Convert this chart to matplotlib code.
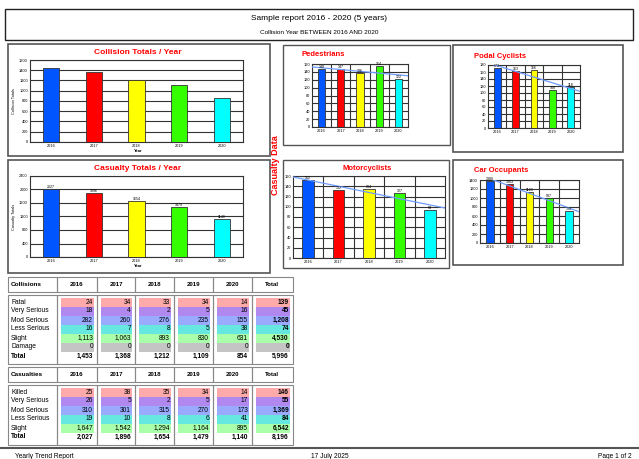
import numpy as np
import matplotlib
matplotlib.use('Agg')
from matplotlib import pyplot as plt
from matplotlib.patches import Rectangle

plt.rcParams['font.family'] = ['Liberation Sans', 'DejaVu Sans']

W, H = 639, 459  # page size in pixels

years = ['2016', '2017', '2018', '2019', '2020']
bar_colors = ['#0055ff', '#ff0000', '#ffff00', '#33ff00', '#00ffff']

# collisions by severity
coll_rows = ['Fatal', 'Very Serious', 'Mod Serious', 'Less Serious', 'Slight', 'Damage']
coll_fatal = [24, 34, 33, 34, 14]
coll_very = [18, 4, 2, 5, 16]
coll_mod = [282, 260, 276, 235, 155]
coll_less = [16, 7, 8, 5, 38]
coll_slight = [1113, 1063, 893, 830, 631]
coll_damage = [0, 0, 0, 0, 0]

# casualties by severity
cas_rows = ['Killed', 'Very Serious', 'Mod Serious', 'Less Serious', 'Slight']
cas_killed = [25, 38, 35, 34, 14]
cas_very = [26, 5, 2, 5, 17]
cas_mod = [310, 301, 315, 270, 173]
cas_less = [19, 10, 8, 6, 41]
cas_slight = [1647, 1542, 1294, 1164, 895]

# casualty groups
pedestrians = [148, 147, 136, 154, 122]
pedal_cyclists = [172, 163, 166, 108, 118]
motorcyclists = [152, 132, 134, 127, 94]
car_occupants = [1380, 1303, 1123, 997, 715]

coll_data = np.array([coll_fatal, coll_very, coll_mod, coll_less, coll_slight, coll_damage])
cas_data = np.array([cas_killed, cas_very, cas_mod, cas_less, cas_slight])
coll_totals = coll_data.sum(axis=0)
cas_totals = cas_data.sum(axis=0)

row_colors = ['#ffaaaa', '#b088ee', '#99aaff', '#66e8e0', '#aaffaa', '#c4c4c4']


def px(x0, y0, x1, y1):
    # pixel box (top-left origin) -> figure fraction rect
    return [x0 / W, 1 - y1 / H, (x1 - x0) / W, (y1 - y0) / H]


fig = plt.figure(figsize=(W / 100, H / 100), dpi=100)
bg = fig.add_axes([0, 0, 1, 1])
bg.set_xlim(0, W)
bg.set_ylim(H, 0)
bg.axis('off')


def box(x0, y0, x1, y1, ec='#444444', lw=1.0, fc='none'):
    bg.add_patch(Rectangle((x0, y0), x1 - x0, y1 - y0, fill=(fc != 'none'),
                           facecolor=fc, edgecolor=ec, linewidth=lw))


# header
box(5, 9, 633, 40, ec='#222222', lw=1.0)
bg.text(319, 19, 'Sample report 2016 - 2020 (5 years)', ha='center', va='center', fontsize=6)
bg.text(319, 32, 'Collision Year BETWEEN 2016 AND 2020', ha='center', va='center', fontsize=4.6)

# panel frames
box(8, 44, 270, 156, ec='#555555', lw=1.2)
box(8, 160, 270, 273, ec='#555555', lw=1.2)
box(283, 45, 450, 145, ec='#555555', lw=1.0)
box(453, 45, 623, 152, ec='#555555', lw=1.2)
box(283, 160, 449, 268, ec='#555555', lw=1.0)
box(453, 160, 623, 265, ec='#555555', lw=1.2)

bg.text(276, 165, 'Casualty Data', rotation=90, ha='center', va='center',
        fontsize=6.5, color='red', fontweight='bold')


def bar_chart(rect, vals, top, step, labels=True, trend=False, vgrid=False, ylabel=None):
    ax = fig.add_axes(px(*rect))
    x = np.arange(len(vals))
    ax.bar(x, vals, width=0.38, color=bar_colors, edgecolor='#333333', linewidth=0.6, zorder=3)
    ax.set_xlim(-0.5, len(vals) - 0.5)
    ax.set_ylim(0, top)
    ax.set_yticks(np.arange(0, top + 1, step))
    ax.set_xticks(x)
    ax.set_xticklabels(years)
    ax.tick_params(labelsize=2.8, length=0, pad=1.5)
    ax.grid(axis='y', color='#333333', linewidth=0.8, zorder=1)
    if vgrid:
        for b in np.arange(0.5, len(vals) - 1, 1):
            ax.axvline(b, color='#333333', linewidth=0.8, zorder=1)
    if trend:
        coef = np.polyfit(x, vals, 1)
        xx = np.array([-0.5, len(vals) - 0.5])
        ax.plot(xx, np.polyval(coef, xx), color='#6f9cff', linewidth=0.9, zorder=4)
    if labels:
        for xi, v in zip(x, vals):
            ax.text(xi, v, f'{v}', ha='center', va='bottom', fontsize=2.6, zorder=5)
    for s in ax.spines.values():
        s.set_color('#333333')
        s.set_linewidth(0.8)
    if ylabel:
        ax.set_ylabel(ylabel, fontsize=2.8, labelpad=2)
    return ax


# big charts
bar_chart((30, 60, 243, 142), list(coll_totals), 1600, 200, labels=False, ylabel='Collision Totals')
bg.text(138, 52, 'Collision Totals / Year', ha='center', va='center', fontsize=6,
        color='red', fontweight='bold')
bg.text(138, 151, 'Year', ha='center', va='center', fontsize=3, fontweight='bold')

bar_chart((30, 176, 243, 257), list(cas_totals), 2400, 400, labels=True, ylabel='Casualty Totals')
bg.text(138, 168, 'Casualty Totals / Year', ha='center', va='center', fontsize=6,
        color='red', fontweight='bold')
bg.text(138, 266, 'Year', ha='center', va='center', fontsize=3, fontweight='bold')

# small charts
bar_chart((312, 64, 408, 127), pedestrians, 160, 20, trend=True, vgrid=True)
bg.text(301, 54, 'Pedestrians', ha='left', va='center', fontsize=5.5, color='red', fontweight='bold')

bar_chart((488, 65, 580, 128), pedal_cyclists, 180, 20, trend=True, vgrid=True)
bg.text(474, 57, 'Podal Cyclists', ha='left', va='center', fontsize=5.5, color='red', fontweight='bold')

bar_chart((293, 176, 445, 258), motorcyclists, 160, 20, trend=True, vgrid=True)
bg.text(367, 168, 'Motorcyclists', ha='center', va='center', fontsize=5.5, color='red', fontweight='bold')

bar_chart((480, 180, 579, 243), car_occupants, 1400, 200, trend=True, vgrid=True)
bg.text(474, 171, 'Car Occupants', ha='left', va='center', fontsize=5.5, color='red', fontweight='bold')

# tables
col_edges = [8, 57, 97, 135, 174, 213, 252, 293]


def draw_table(top, title, names, data, totals_row, first_row):
    head_bot = top + 15
    for c in range(len(col_edges) - 1):
        box(col_edges[c], top, col_edges[c + 1], head_bot, ec='#888888', lw=0.8)
    bg.text(11, (top + head_bot) / 2, title, ha='left', va='center', fontsize=4.6, fontweight='bold')
    heads = years + ['Total']
    for c, hname in enumerate(heads):
        cx = (col_edges[c + 1] + col_edges[c + 2]) / 2
        bg.text(cx, (top + head_bot) / 2, hname, ha='center', va='center', fontsize=4.4, fontweight='bold')

    n = len(names)
    body_top = head_bot + 3
    body_bot = first_row + 9 * n + 4.5 + 3
    for c in range(len(col_edges) - 1):
        box(col_edges[c], body_top, col_edges[c + 1], body_bot, ec='#888888', lw=0.8)

    row_tot = data.sum(axis=1)
    for r, name in enumerate(names):
        cy = first_row + 9 * r
        bg.text(11, cy, name, ha='left', va='center', fontsize=4.8)
        vals = list(data[r]) + [row_tot[r]]
        for c, v in enumerate(vals):
            x0 = col_edges[c + 1] + 4
            x1 = col_edges[c + 2] - 3
            bg.add_patch(Rectangle((x0, cy - 4.5), x1 - x0, 9, facecolor=row_colors[r],
                                   edgecolor='none'))
            bg.text(x1 - 1, cy, f'{v:,}', ha='right', va='center', fontsize=4.8,
                    fontweight='bold' if c == 5 else 'normal')
    cy = first_row + 9 * n
    bg.text(11, cy, 'Total', ha='left', va='center', fontsize=4.8, fontweight='bold')
    for c, v in enumerate(list(totals_row) + [totals_row.sum()]):
        x1 = col_edges[c + 2] - 3
        bg.text(x1 - 1, cy, f'{v:,}', ha='right', va='center', fontsize=4.8, fontweight='bold')


draw_table(277, 'Collisions', coll_rows, coll_data, coll_totals, 302)
draw_table(367, 'Casualties', cas_rows, cas_data, cas_totals, 392)

# footer
bg.plot([0, W], [448, 448], color='#555555', linewidth=1.5)
bg.text(15, 456, 'Yearly Trend Report', ha='left', va='center', fontsize=4.8)
bg.text(330, 456, '17 July 2025', ha='center', va='center', fontsize=4.8)
bg.text(632, 456, 'Page 1 of 2', ha='right', va='center', fontsize=4.8)

fig.savefig('out.png', dpi=100)
